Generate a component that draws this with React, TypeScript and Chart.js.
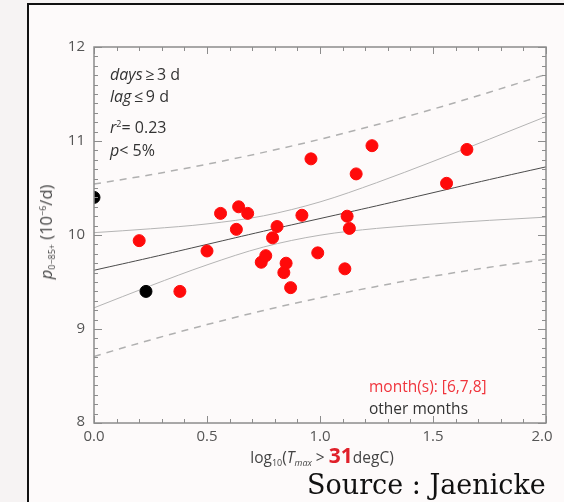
import React, { useEffect, useRef } from "react";
import { Chart, registerables } from "chart.js";

Chart.register(...registerables);

// June–August points (red)
const redX = [0.20, 0.38, 0.50, 0.56, 0.63, 0.64, 0.68, 0.74, 0.76, 0.79, 0.81, 0.84, 0.85, 0.87, 0.92, 0.96, 0.99, 1.11, 1.12, 1.13, 1.16, 1.23, 1.56, 1.65];
const redY = [9.94, 9.40, 9.83, 10.23, 10.06, 10.30, 10.23, 9.71, 9.78, 9.97, 10.09, 9.60, 9.70, 9.44, 10.21, 10.81, 9.81, 9.64, 10.20, 10.07, 10.65, 10.95, 10.55, 10.91];
// other months (black)
const blackX = [0.0, 0.23];
const blackY = [10.40, 9.40];

// regression line and bands read at these x positions
const curveX = [0, 0.25, 0.5, 0.75, 1.0, 1.25, 1.5, 1.75, 2.0];
const fitY = [9.625, 9.76, 9.90, 10.04, 10.175, 10.31, 10.45, 10.59, 10.725];
const ciUpper = [10.025, 10.066, 10.118, 10.204, 10.352, 10.556, 10.783, 11.02, 11.26];
const ciLower = [9.225, 9.46, 9.682, 9.872, 9.998, 10.07, 10.117, 10.156, 10.19];
const piUpper = [10.542, 10.641, 10.753, 10.879, 11.018, 11.173, 11.339, 11.519, 11.708];
const piLower = [8.708, 8.884, 9.047, 9.197, 9.332, 9.453, 9.561, 9.657, 9.742];

const xTicks = [0, 0.5, 1.0, 1.5, 2.0];
const xTickLabels = ["0.0", "0.5", "1.0", "1.5", "2.0"];
const yTicks = [8, 9, 10, 11, 12];
const yTickLabels = ["8", "9", "10", "11", "12"];

const pts = (xs: number[], ys: number[]) => xs.map((x, i) => ({ x, y: ys[i] }));

const framePlugin = {
  id: "frameTicks",
  afterDatasetsDraw(chart: any) {
    const { ctx, chartArea, scales } = chart;
    const { left, top, right, bottom } = chartArea;
    const xs = scales.x;
    const ys = scales.y;
    ctx.save();
    ctx.strokeStyle = "#8c8c8c";
    ctx.lineWidth = 1.5;
    ctx.strokeRect(left, top, right - left, bottom - top);
    ctx.lineWidth = 1;
    ctx.beginPath();
    for (let i = 0; i <= 20; i++) {
      const px = Math.round(xs.getPixelForValue(i / 10)) + 0.5;
      const len = i % 5 === 0 ? 7 : 4;
      ctx.moveTo(px, bottom);
      ctx.lineTo(px, bottom - len);
      ctx.moveTo(px, top);
      ctx.lineTo(px, top + len);
    }
    for (let i = 0; i <= 40; i++) {
      const py = Math.round(ys.getPixelForValue(8 + i / 10)) + 0.5;
      const len = i % 10 === 0 ? 8 : 4;
      ctx.moveTo(left, py);
      ctx.lineTo(left + len, py);
      ctx.moveTo(right, py);
      ctx.lineTo(right - len, py);
    }
    ctx.stroke();
    ctx.fillStyle = "#555";
    ctx.font = "15px 'Open Sans'";
    ctx.textBaseline = "middle";
    ctx.textAlign = "right";
    yTicks.forEach((v, i) => {
      ctx.fillText(yTickLabels[i], left - 9, ys.getPixelForValue(v) - (v === 8 ? 1 : 0));
    });
    ctx.textAlign = "center";
    xTicks.forEach((v, i) => {
      ctx.fillText(xTickLabels[i], xs.getPixelForValue(v) - (v === 2 ? 4 : 0), bottom + 14);
    });
    ctx.restore();
  },
};

export default function App() {
  const ref = useRef<HTMLCanvasElement | null>(null);
  useEffect(() => {
    if (!ref.current) return;
    const chart = new Chart(ref.current, {
      type: "scatter",
      data: {
        datasets: [
          {
            label: "month(s): [6,7,8]",
            data: pts(redX, redY),
            backgroundColor: "#ff0a0a",
            borderColor: "#ff0a0a",
            pointRadius: 6,
            order: 0,
          },
          {
            label: "other months",
            data: pts(blackX, blackY),
            backgroundColor: "#000",
            borderColor: "#000",
            pointRadius: 6,
            order: 0,
            clip: { left: 0, top: 10, right: 10, bottom: 10 },
          } as any,
          {
            label: "fit",
            data: pts(curveX, fitY),
            showLine: true,
            pointRadius: 0,
            borderColor: "#4a4a4a",
            borderWidth: 1,
            tension: 0.4,
            order: 2,
          },
          {
            label: "ci upper",
            data: pts(curveX, ciUpper),
            showLine: true,
            pointRadius: 0,
            borderColor: "#b4b4b4",
            borderWidth: 1,
            cubicInterpolationMode: "monotone",
            order: 3,
          },
          {
            label: "ci lower",
            data: pts(curveX, ciLower),
            showLine: true,
            pointRadius: 0,
            borderColor: "#b4b4b4",
            borderWidth: 1,
            cubicInterpolationMode: "monotone",
            order: 3,
          },
          {
            label: "pi upper",
            data: pts(curveX, piUpper),
            showLine: true,
            pointRadius: 0,
            borderColor: "#b0b0b0",
            borderWidth: 1.5,
            borderDash: [7, 6],
            cubicInterpolationMode: "monotone",
            order: 3,
          },
          {
            label: "pi lower",
            data: pts(curveX, piLower),
            showLine: true,
            pointRadius: 0,
            borderColor: "#b0b0b0",
            borderWidth: 1.5,
            borderDash: [7, 6],
            cubicInterpolationMode: "monotone",
            order: 3,
          },
        ],
      },
      options: {
        responsive: false,
        animation: false,
        layout: { padding: { left: 94, top: 47, right: 18, bottom: 79 } },
        plugins: { legend: { display: false }, tooltip: { enabled: false } },
        scales: {
          x: { type: "linear", min: 0, max: 2, display: false },
          y: { type: "linear", min: 8, max: 12, display: false },
        },
      },
      plugins: [framePlugin],
    });
    return () => chart.destroy();
  }, []);

  const txt: React.CSSProperties = { position: "absolute", whiteSpace: "nowrap", fontSize: 16, lineHeight: "18px", color: "#333" };
  const sup: React.CSSProperties = { fontSize: 9, verticalAlign: "6px", lineHeight: 0 };
  const sub: React.CSSProperties = { fontSize: 9, verticalAlign: "-3px", lineHeight: 0 };

  return (
    <div style={{ position: "absolute", left: 0, top: 0, width: 564, height: 502, overflow: "hidden", background: "#f6f3f3", fontFamily: "'Open Sans', sans-serif" }}>
      <div style={{ position: "absolute", left: 27, top: 3, width: 560, height: 520, borderLeft: "2px solid #111", borderTop: "2px solid #111", background: "#fdfafa" }} />
      <canvas ref={ref} width={564} height={502} style={{ position: "absolute", left: 0, top: 0 }} />
      <div style={{ ...txt, left: 110, top: 65 }}><i>days</i>{"\u2009≥\u2009"}3 d</div>
      <div style={{ ...txt, left: 110, top: 87 }}><i>lag</i>{"\u2009≤\u2009"}9 d</div>
      <div style={{ ...txt, left: 110, top: 118 }}><i>r</i><sup style={sup}>2</sup>= 0.23</div>
      <div style={{ ...txt, left: 110, top: 141 }}><i>p</i>&lt; 5%</div>
      <div style={{ ...txt, left: 369, top: 377, color: "#f0343c", fontSize: 15.5 }}>month(s): [6,7,8]</div>
      <div style={{ ...txt, left: 369, top: 399, color: "#333", fontSize: 15.5 }}>other months</div>
      <div style={{ ...txt, left: 322, top: 446, transform: "translateX(-50%)", color: "#444", fontSize: 15.5 }}>
        log<sub style={sub}>10</sub>(<i>T</i><sub style={{ ...sub, fontStyle: "italic" }}>max</sub> &gt; <b style={{ color: "#e0202a", fontSize: 21 }}>31</b>degC)
      </div>
      <div style={{ ...txt, left: 46, top: 232, transform: "translate(-50%, -50%) rotate(-90deg)", color: "#444", fontSize: 16.5 }}>
        <i>p</i><sub style={sub}>0−85+</sub> (10<sup style={sup}>−6</sup>/d)
      </div>
      <div style={{ position: "absolute", left: 307, top: 469, whiteSpace: "nowrap", fontFamily: "'DejaVu Serif', serif", fontSize: 27, color: "#111" }}>Source : Jaenicke</div>
    </div>
  );
}
